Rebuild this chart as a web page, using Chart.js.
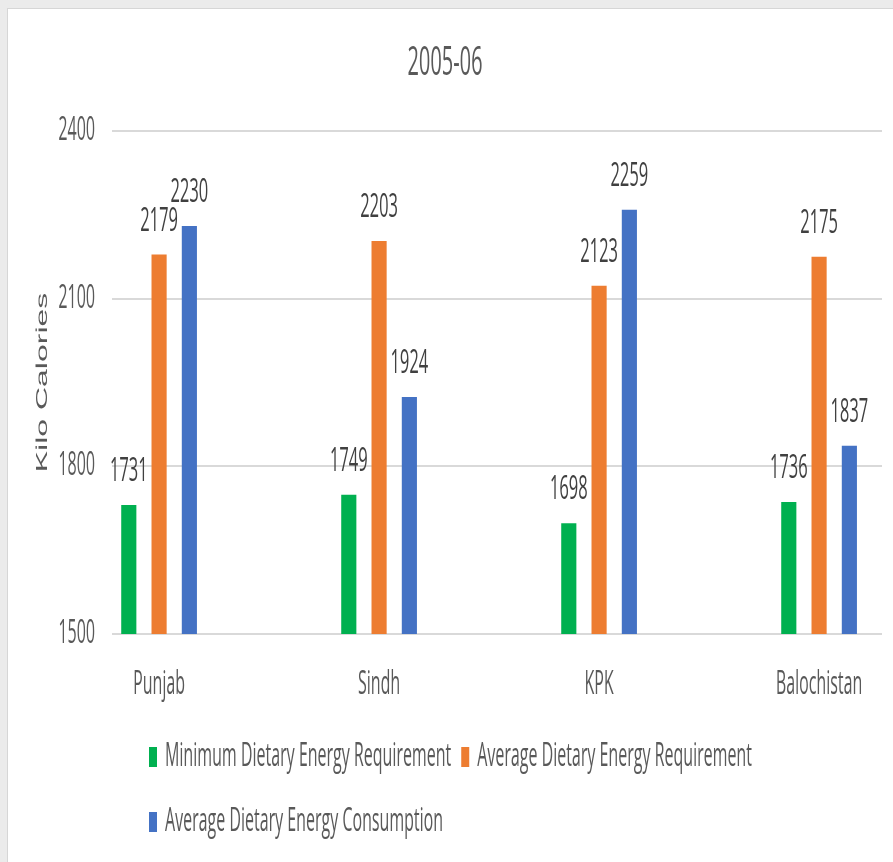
<!DOCTYPE html>
<html>
<head>
<meta charset="utf-8">
<title>2005-06</title>
<script src="https://cdn.jsdelivr.net/npm/chart.js@4/dist/chart.umd.min.js"></script>
<style>
    html, body { margin: 0; padding: 0; background: #ffffff; overflow: hidden; }
    #chart { display: block; width: 893px; height: 862px; }
</style>
</head>
<body>
<canvas id="chart" width="893" height="431" style="width:893px;height:862px"></canvas>
<script>
// Datos del gráfico
const categories = ['Punjab', 'Sindh', 'KPK', 'Balochistan'];
const seriesNames = [
    'Minimum Dietary Energy Requirement',
    'Average Dietary Energy Requirement',
    'Average Dietary Energy Consumption'
];
const minRequirement = [1731, 1749, 1698, 1736];
const avgRequirement = [2179, 2203, 2123, 2175];
const avgConsumption = [2230, 1924, 2259, 1837];
const yTicks = [1500, 1800, 2100, 2400];

const colors = ['#00b050', '#ed7d31', '#4472c4'];
const textColor = '#595959';
const fontFamily = "'Open Sans', 'Liberation Sans', sans-serif";

// x lineal para poder dejar el primer grupo cerca del eje, como en Excel
function toPoints(values) {
    return values.map((v, i) => ({ x: i, y: v }));
}

// Fondo gris con panel blanco
const background = {
    id: 'background',
    beforeDraw(chart) {
        const c = chart.ctx;
        c.save();
        c.fillStyle = '#ebebeb';
        c.fillRect(0, 0, chart.width, chart.height);
        c.fillStyle = '#d6d6d6';
        c.fillRect(7, 4, chart.width, chart.height);
        c.fillStyle = '#ffffff';
        c.fillRect(8, 4.5, chart.width, chart.height);
        c.restore();
    }
};

// Etiquetas de valor sobre cada barra
const valueLabels = {
    id: 'valueLabels',
    afterDatasetsDraw(chart) {
        const c = chart.ctx;
        c.save();
        c.font = '16.5px ' + fontFamily;
        c.fillStyle = '#404040';
        c.textAlign = 'center';
        c.textBaseline = 'alphabetic';
        chart.data.datasets.forEach((ds, di) => {
            chart.getDatasetMeta(di).data.forEach((bar, i) => {
                c.fillText(String(ds.data[i].y), bar.x, bar.y - 12);
            });
        });
        c.restore();
    }
};

// Leyenda propia: filas alineadas a la izquierda como en Excel
const customLegend = {
    id: 'customLegend',
    afterDraw(chart) {
        const c = chart.ctx;
        c.save();
        c.font = '16px ' + fontFamily;
        c.textBaseline = 'middle';
        const startX = 149, rowY = [378.5, 411], maxRight = 880;
        let x = startX, row = 0;
        chart.data.datasets.forEach((ds, i) => {
            const w = 16 + c.measureText(ds.label).width;
            if (x + w > maxRight && x > startX) { row++; x = startX; }
            const y = rowY[row];
            c.fillStyle = ds.backgroundColor;
            c.fillRect(x, y - 5, 8, 10);
            c.fillStyle = textColor;
            c.fillText(ds.label, x + 16, y);
            x += w + 10;
        });
        c.restore();
    }
};

const ctx = document.getElementById('chart').getContext('2d');
new Chart(ctx, {
    type: 'bar',
    data: {
        datasets: [
            { label: seriesNames[0], data: toPoints(minRequirement), backgroundColor: colors[0] },
            { label: seriesNames[1], data: toPoints(avgRequirement), backgroundColor: colors[1] },
            { label: seriesNames[2], data: toPoints(avgConsumption), backgroundColor: colors[2] }
        ]
    },
    options: {
        responsive: false,
        devicePixelRatio: 2,
        animation: false,
        categoryPercentage: 0.413,
        barPercentage: 0.5,
        layout: { padding: { left: 8, right: 11, top: 0, bottom: 0 } },
        plugins: {
            legend: { display: false },
            tooltip: { enabled: false },
            title: {
                display: true,
                text: '2005-06',
                color: textColor,
                font: { family: fontFamily, size: 20, weight: 'normal' },
                padding: { top: 20, bottom: 21.5 }
            }
        },
        scales: {
            x: {
                type: 'linear',
                bounds: 'data',
                offset: false,
                min: -0.214,
                max: 3.286,
                grid: { display: false, drawTicks: false },
                border: { display: false },
                afterFit(scale) { scale.height = 114; },
                afterBuildTicks(scale) { scale.ticks = categories.map((c, i) => ({ value: i })); },
                ticks: {
                    autoSkip: false,
                    maxRotation: 0,
                    padding: 16,
                    color: textColor,
                    font: { family: fontFamily, size: 16 },
                    callback: (v) => categories[v] !== undefined ? categories[v] : ''
                }
            },
            y: {
                min: yTicks[0],
                max: yTicks[yTicks.length - 1],
                grid: { color: '#d9d9d9', lineWidth: 1, drawTicks: false },
                border: { display: false },
                afterFit(scale) { scale.width = 104; },
                afterBuildTicks(scale) { scale.ticks = yTicks.map(v => ({ value: v })); },
                ticks: {
                    padding: 17,
                    color: textColor,
                    font: { family: fontFamily, size: 16 },
                    callback: (v) => String(v)
                },
                title: {
                    display: true,
                    text: 'Kilo Calories',
                    color: textColor,
                    font: { family: "'Liberation Sans', Arial, sans-serif", size: 16 },
                    padding: { top: 25, bottom: 0 }
                }
            }
        }
    },
    plugins: [background, valueLabels, customLegend]
});
</script>
</body>
</html>
